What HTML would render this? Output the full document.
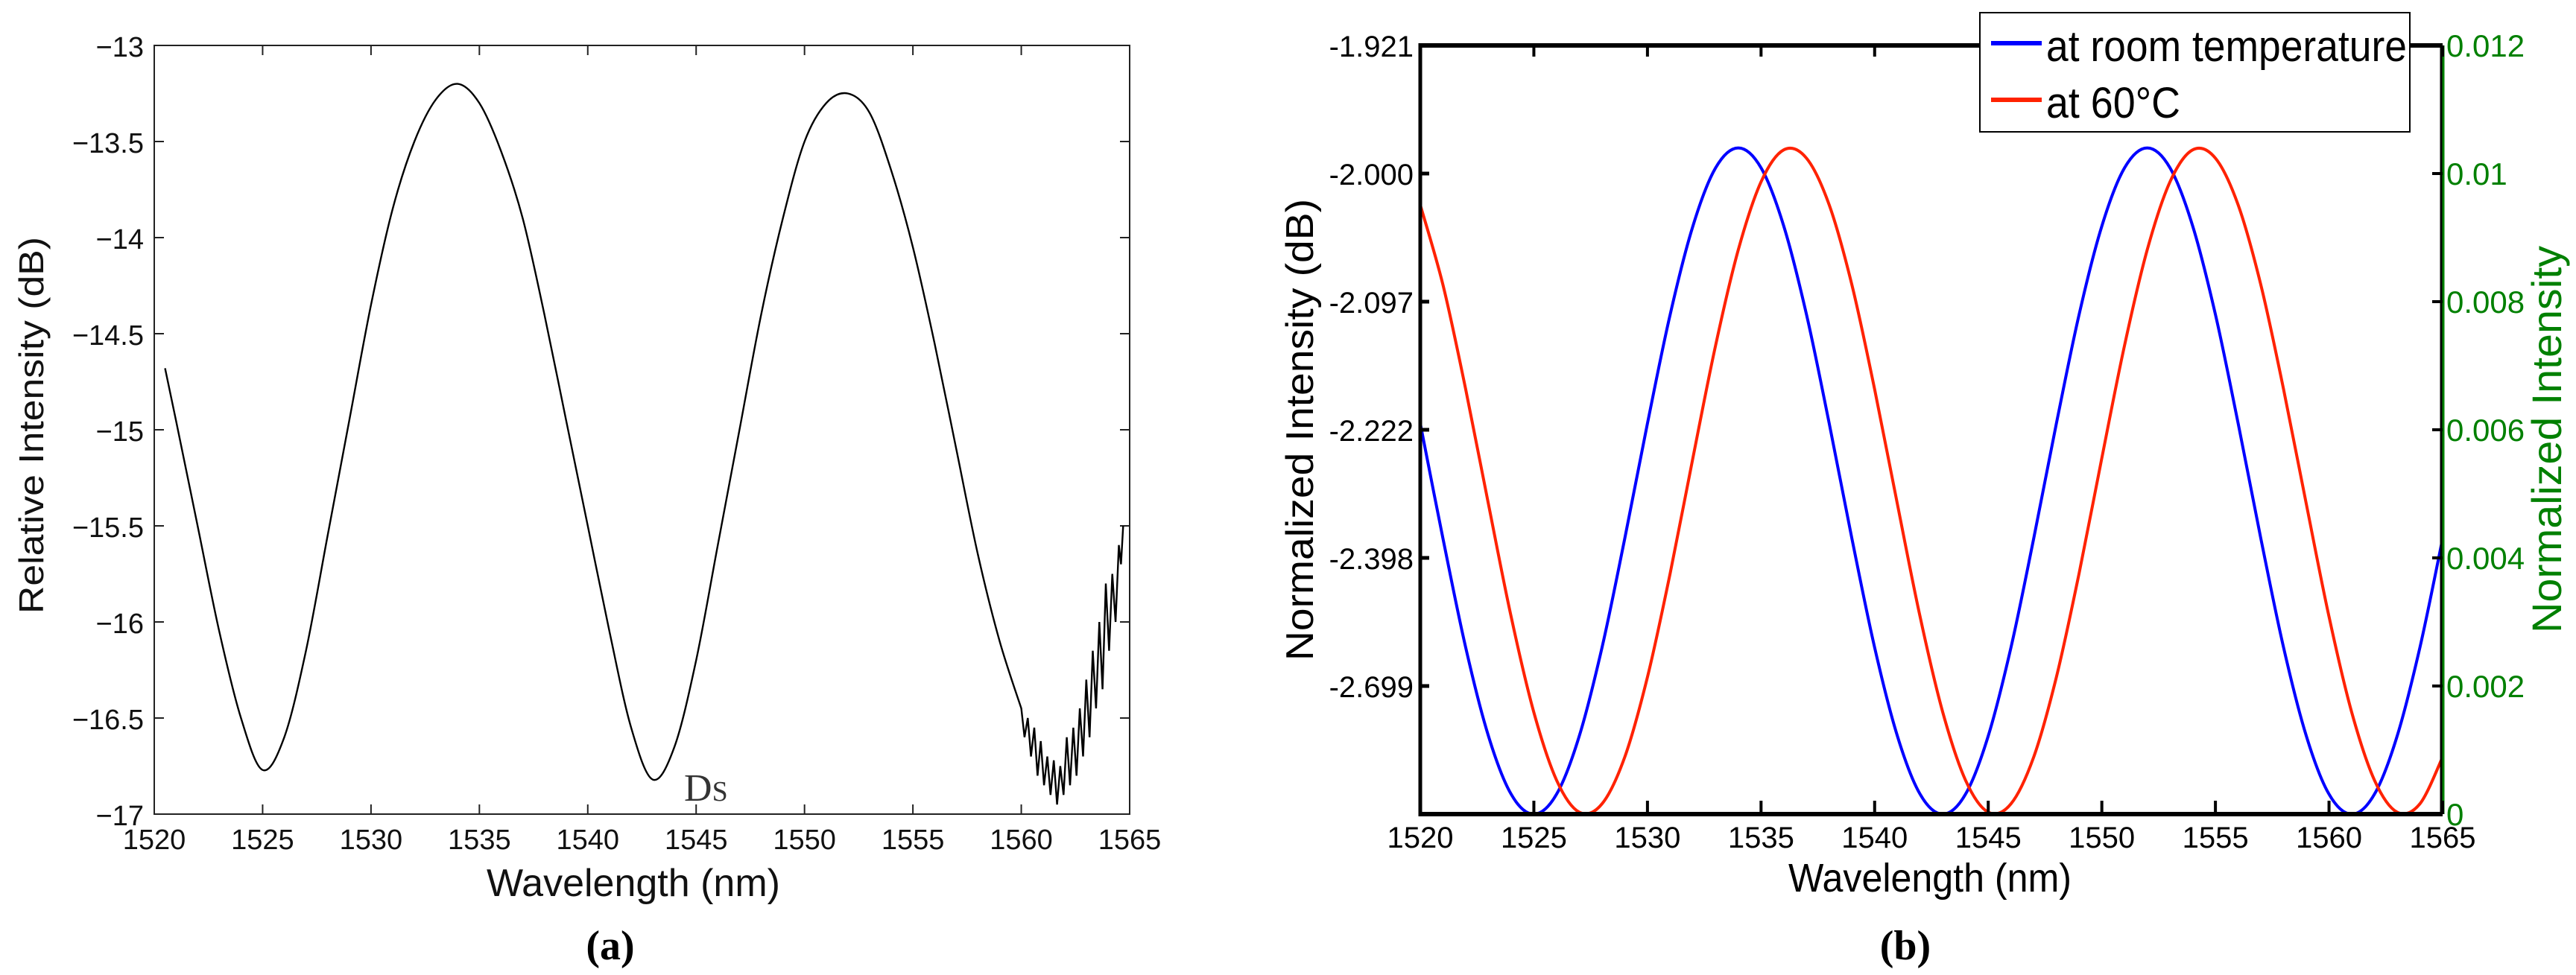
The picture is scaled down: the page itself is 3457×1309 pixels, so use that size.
<!DOCTYPE html>
<html><head><meta charset="utf-8">
<style>
html,body{margin:0;padding:0;background:#fff;}
svg{display:block;font-family:"Liberation Sans",Arial,sans-serif;}
</style></head>
<body>
<svg id="fig" width="3457" height="1309" viewBox="0 0 3457 1309" xmlns="http://www.w3.org/2000/svg">
  <g id="chartA"></g>
  <g id="chartB"></g>
</svg>
<script>
// ---------- Chart (a) data ----------
const aWave = [1520.5,1521,1522,1523,1524,1525,1526,1527,1528,1529,1530,1531,1532,1533,1534,1535,1536,1537,1538,1539,1540,1541,1542,1543,1544,1545,1546,1547,1548,1549,1550,1551,1552,1553,1554,1555,1556,1557,1558,1559,1560];
const aDb = [-14.68,-14.95,-15.5,-16.05,-16.5,-16.77,-16.6,-16.15,-15.55,-14.95,-14.35,-13.85,-13.5,-13.28,-13.2,-13.3,-13.55,-13.9,-14.4,-14.95,-15.5,-16.05,-16.55,-16.82,-16.65,-16.2,-15.6,-15.0,-14.4,-13.9,-13.5,-13.3,-13.25,-13.35,-13.65,-14.05,-14.55,-15.1,-15.65,-16.1,-16.45];
// noisy tail of the measured spectrum
const aNoiseWave = [1560,1560.15,1560.3,1560.45,1560.6,1560.75,1560.9,1561.05,1561.2,1561.35,1561.5,1561.65,1561.8,1561.95,1562.1,1562.25,1562.4,1562.55,1562.7,1562.85,1563,1563.15,1563.3,1563.45,1563.6,1563.75,1563.9,1564.05,1564.2,1564.35,1564.5,1564.6,1564.7];
const aNoiseDb = [-16.45,-16.6,-16.5,-16.7,-16.55,-16.8,-16.62,-16.85,-16.7,-16.9,-16.72,-16.95,-16.75,-16.9,-16.6,-16.85,-16.55,-16.8,-16.45,-16.7,-16.3,-16.6,-16.15,-16.45,-16.0,-16.35,-15.8,-16.15,-15.75,-16.0,-15.6,-15.7,-15.5];
const aXTicks = [1520,1525,1530,1535,1540,1545,1550,1555,1560,1565];
const aYTicks = [-13,-13.5,-14,-14.5,-15,-15.5,-16,-16.5,-17];
const aYTickLabels = ["\u221213","\u221213.5","\u221214","\u221214.5","\u221215","\u221215.5","\u221216","\u221216.5","\u221217"];

// ---------- Chart (b) data ----------
const bWave = [1520,1521,1522,1523,1524,1525,1526,1527,1528,1529,1530,1531,1532,1533,1534,1535,1536,1537,1538,1539,1540,1541,1542,1543,1544,1545,1546,1547,1548,1549,1550,1551,1552,1553,1554,1555,1556,1557,1558,1559,1560,1561,1562,1563,1564,1565];
const bRoom = [61,43,26,12.2,3.1,0,3.1,12.2,26,43,61,78,91.8,100.9,104,100.9,91.8,78,61,43,26,12.2,3.1,0,3.1,12.2,26,43,61,78,91.8,100.9,104,100.9,91.8,78,61,43,26,12.2,3.1,0,3.1,12.2,26,43];
const bHot = [95.1,82.6,66.3,48.4,30.8,15.9,5.3,0.3,1.6,8.9,21.4,37.6,55.6,73.2,88.1,98.7,103.7,102.4,95.1,82.6,66.3,48.4,30.8,15.9,5.3,0.3,1.6,8.9,21.4,37.6,55.6,73.2,88.1,98.7,103.7,102.4,95.1,82.6,66.3,48.4,30.8,15.9,5.3,0.3,1.6,8.9];
const bXTicks = [1520,1525,1530,1535,1540,1545,1550,1555,1560,1565];
const bLeftTickLabels = ["-2.699","-2.398","-2.222","-2.097","-2.000","-1.921"];
const bRightTicks = [0.002,0.004,0.006,0.008,0.01,0.012];
const bRightTickLabels = ["0.002","0.004","0.006","0.008","0.01","0.012"];
const bLegendLabels = ["at room temperature","at 60\u00b0C"];

const NS = "http://www.w3.org/2000/svg";
function mk(parent, tag, attrs, text){
  const e = document.createElementNS(NS, tag);
  for (const k in attrs) e.setAttribute(k, attrs[k]);
  if (text !== undefined) e.textContent = text;
  parent.appendChild(e);
  return e;
}
function smoothPath(pts){
  let d = "M" + pts[0][0].toFixed(1) + "," + pts[0][1].toFixed(1);
  for (let i = 0; i < pts.length - 1; i++){
    const p0 = pts[Math.max(0,i-1)], p1 = pts[i], p2 = pts[i+1], p3 = pts[Math.min(pts.length-1,i+2)];
    const c1x = p1[0] + (p2[0]-p0[0])/6, c1y = p1[1] + (p2[1]-p0[1])/6;
    const c2x = p2[0] - (p3[0]-p1[0])/6, c2y = p2[1] - (p3[1]-p1[1])/6;
    d += " C" + c1x.toFixed(1)+","+c1y.toFixed(1)+" "+c2x.toFixed(1)+","+c2y.toFixed(1)+" "+p2[0].toFixed(1)+","+p2[1].toFixed(1);
  }
  return d;
}

// ================= Chart (a) =================
(function(){
  const g = document.getElementById("chartA");
  const L=207, R=1516, T=61, B=1093;
  const xS = v => L + (v-1520)/(1565-1520)*(R-L);
  const yS = v => T + (-13 - v)/4*(B-T);

  const frame = mk(g,"rect",{x:L,y:T,width:R-L,height:B-T,fill:"none",stroke:"#222","stroke-width":2});
  
  

  aXTicks.forEach(v=>{
    const x = xS(v);
    const t1 = mk(g,"line",{x1:x,y1:B,x2:x,y2:B-13,stroke:"#222","stroke-width":2});
    
    
    const t2 = mk(g,"line",{x1:x,y1:T,x2:x,y2:T+13,stroke:"#222","stroke-width":2});
    
    
    const lb = mk(g,"text",{x:x,y:1140,"text-anchor":"middle","font-size":38,fill:"#111"}, String(v));
    
    
  });
  aYTicks.forEach((v,i)=>{
    const y = yS(v);
    const t1 = mk(g,"line",{x1:L,y1:y,x2:L+13,y2:y,stroke:"#222","stroke-width":2});
    
    
    const t2 = mk(g,"line",{x1:R,y1:y,x2:R-13,y2:y,stroke:"#222","stroke-width":2});
    
    
    const lb = mk(g,"text",{x:193,y:y+15,"text-anchor":"end","font-size":38,fill:"#111"}, aYTickLabels[i]);
    
    
  });

  const pts = aWave.map((w,i)=>[xS(w), yS(aDb[i])]);
  let d = smoothPath(pts);
  aNoiseWave.forEach((w,i)=>{ d += " L" + xS(w).toFixed(1) + "," + yS(aNoiseDb[i]).toFixed(1); });
  const line = mk(g,"path",{d:d,fill:"none",stroke:"#000","stroke-width":2.4,"stroke-linejoin":"miter"});
  
  

  const yt = mk(g,"text",{x:0,y:0,"text-anchor":"middle","font-size":46,fill:"#111",transform:"translate(58,571) rotate(-90)",textLength:506,lengthAdjust:"spacingAndGlyphs"},"Relative Intensity (dB)");
  
  
  const xt = mk(g,"text",{x:850,y:1203,"text-anchor":"middle","font-size":52,fill:"#111",textLength:394,lengthAdjust:"spacingAndGlyphs"},"Wavelength (nm)");
  
  
  const cap = mk(g,"text",{x:819,y:1288,"text-anchor":"middle","font-size":56,"font-weight":"bold","font-family":'"Liberation Serif", serif',fill:"#000"},"(a)");
  
  
  const ds = mk(g,"text",{x:918,y:1075,"font-size":52,"font-family":'"Liberation Serif", serif',fill:"#333"});
  
  
  mk(ds,"tspan",{},"D");
  mk(ds,"tspan",{"font-size":38},"S");
})();

// ================= Chart (b) =================
(function(){
  const g = document.getElementById("chartB");
  const L=1906, R=3278, T=61, B=1093;
  const xS = v => L + (v-1520)/(1565-1520)*(R-L);
  const yR = v => B - v/0.012*(B-T);
  const yD = v => yR(v*0.0001);
  const green = "#008000";

  const ptsBlue = bWave.map((w,i)=>[xS(w), yD(bRoom[i])]);
  const ptsRed = bWave.map((w,i)=>[xS(w), yD(bHot[i])]);
  const cl = mk(g,"clipPath",{id:"clipB"});
  mk(cl,"rect",{x:L,y:T-2,width:R-L,height:B-T+2});
  const blue = mk(g,"path",{d:smoothPath(ptsBlue),fill:"none",stroke:"#0000ff","stroke-width":4,"clip-path":"url(#clipB)"});
  
  
  const red = mk(g,"path",{d:smoothPath(ptsRed),fill:"none",stroke:"#ff2200","stroke-width":4,"clip-path":"url(#clipB)"});
  
  

  const axL = mk(g,"line",{x1:L,y1:T-3,x2:L,y2:B+3,stroke:"#000","stroke-width":5});
  
  
  const axT = mk(g,"line",{x1:L,y1:T,x2:R,y2:T,stroke:"#000","stroke-width":6});
  
  
  const axB = mk(g,"line",{x1:L,y1:B,x2:R,y2:B,stroke:"#000","stroke-width":6});
  
  
  const axR = mk(g,"line",{x1:R-2,y1:T,x2:R-2,y2:B,stroke:"#000","stroke-width":3});
  
  
  const axRg = mk(g,"line",{x1:R+1,y1:T,x2:R+1,y2:B,stroke:green,"stroke-width":3});
  
  

  bXTicks.forEach(v=>{
    const x = xS(v);
    const t1 = mk(g,"line",{x1:x,y1:B,x2:x,y2:B-18,stroke:"#000","stroke-width":4});
    
    
    const t2 = mk(g,"line",{x1:x,y1:T,x2:x,y2:T+15,stroke:"#000","stroke-width":4});
    
    
    const lb = mk(g,"text",{x:x,y:1138,"text-anchor":"middle","font-size":40,fill:"#000"}, String(v));
    
    
  });
  bRightTicks.forEach((v,i)=>{
    const y = yR(v);
    if (i < bRightTicks.length-1){
      const t1 = mk(g,"line",{x1:L,y1:y,x2:L+12,y2:y,stroke:"#000","stroke-width":5});
      
      
      const t2 = mk(g,"line",{x1:R,y1:y,x2:R-14,y2:y,stroke:"#000","stroke-width":4});
      
      
    }
    const lb = mk(g,"text",{x:1897,y:y+15,"text-anchor":"end","font-size":40,fill:"#000"}, bLeftTickLabels[i]);
    
    
    const rb = mk(g,"text",{x:3283,y:y+15,"font-size":42,fill:green}, bRightTickLabels[i]);
    
    
  });
  const zero = mk(g,"text",{x:3283,y:B+15,"font-size":42,fill:green},"0");
  
  

  const yt = mk(g,"text",{x:0,y:0,"text-anchor":"middle","font-size":52,fill:"#000",transform:"translate(1762,577) rotate(-90)",textLength:620,lengthAdjust:"spacingAndGlyphs"},"Normalized Intensity (dB)");
  
  
  const yt2 = mk(g,"text",{x:0,y:0,"text-anchor":"middle","font-size":56,fill:green,transform:"translate(3437,590) rotate(-90)",textLength:520,lengthAdjust:"spacingAndGlyphs"},"Normalized Intensity");
  
  
  const xt = mk(g,"text",{x:2590,y:1197,"text-anchor":"middle","font-size":54,fill:"#000",textLength:380,lengthAdjust:"spacingAndGlyphs"},"Wavelength (nm)");
  
  
  const cap = mk(g,"text",{x:2557,y:1288,"text-anchor":"middle","font-size":56,"font-weight":"bold","font-family":'"Liberation Serif", serif',fill:"#000"},"(b)");
  
  

  const lg = mk(g,"g",{});
  
  
  const box = mk(lg,"rect",{x:2657,y:17,width:577,height:160,fill:"#fff",stroke:"#000","stroke-width":2});
  
  
  const colors = ["#0000ff","#ff2200"];
  bLegendLabels.forEach((t,i)=>{
    const ly = 58 + i*76;
    const ln = mk(lg,"line",{x1:2672,y1:ly,x2:2740,y2:ly,stroke:colors[i],"stroke-width":6});
    
    
    const attrs = {x:2746,y:ly+24,"font-size":58,fill:"#000",lengthAdjust:"spacingAndGlyphs"};
    attrs.textLength = i===0 ? 484 : 180;
    const tx = mk(lg,"text",attrs,t);
    
    
  });
})();
</script>
</body></html>
